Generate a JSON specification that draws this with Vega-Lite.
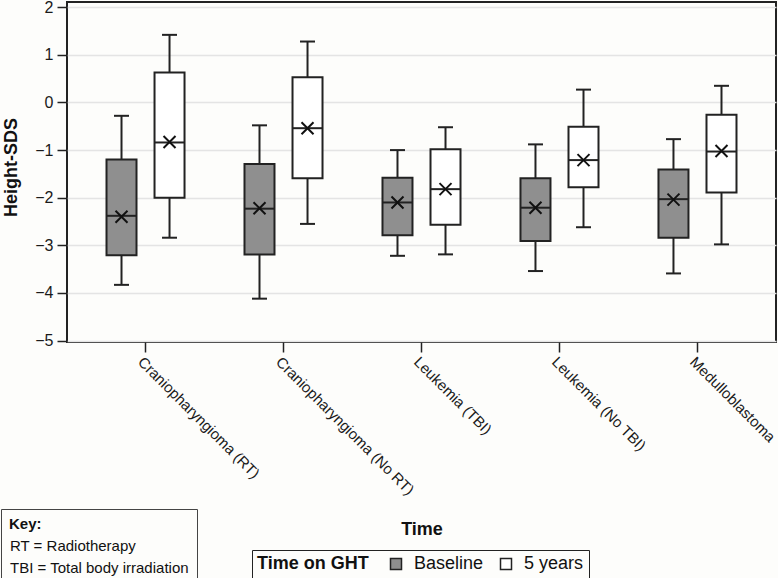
{
  "$schema": "https://vega.github.io/schema/vega-lite/v6.json",
  "width": 709,
  "height": 340,
  "autosize": {"type": "none"},
  "padding": {"left": 67, "top": 2, "right": 2, "bottom": 236},
  "background": "#FDFDFB",
  "config": {
    "font": "Liberation Sans",
    "view": {"stroke": "#222222", "strokeWidth": 2},
    "axis": {
      "labelFont": "Liberation Sans",
      "labelFontSize": 16,
      "labelColor": "#1a1a1a",
      "titleFont": "Liberation Sans",
      "titleFontSize": 18,
      "titleFontWeight": "bold",
      "titleColor": "#111111",
      "tickColor": "#222222",
      "tickWidth": 1.5,
      "tickSize": 10,
      "domain": false,
      "gridColor": "#E4E4E4",
      "gridWidth": 1.5,
      "labelLimit": 400
    },
    "axisX": {
      "grid": false,
      "labelAngle": 45,
      "labelAlign": "left",
      "labelBaseline": "top",
      "labelPadding": 2,
      "labelFontSize": 15,
      "titleY": 187,
      "titleBaseline": "middle"
    },
    "axisY": {
      "grid": true,
      "labelPadding": 4,
      "titleX": -56,
      "titleY": 165,
      "titleBaseline": "middle"
    }
  },
  "data": {
    "values": [
      {"cat": "Craniopharyngioma (RT)", "time": "Baseline", "lo": -3.83, "q1": -3.21, "med": -2.38, "mean": -2.40, "q3": -1.20, "hi": -0.28},
      {"cat": "Craniopharyngioma (RT)", "time": "5 years", "lo": -2.84, "q1": -2.00, "med": -0.84, "mean": -0.83, "q3": 0.63, "hi": 1.42},
      {"cat": "Craniopharyngioma (No RT)", "time": "Baseline", "lo": -4.12, "q1": -3.19, "med": -2.23, "mean": -2.22, "q3": -1.29, "hi": -0.48},
      {"cat": "Craniopharyngioma (No RT)", "time": "5 years", "lo": -2.55, "q1": -1.59, "med": -0.54, "mean": -0.54, "q3": 0.53, "hi": 1.28},
      {"cat": "Leukemia (TBI)", "time": "Baseline", "lo": -3.22, "q1": -2.79, "med": -2.10, "mean": -2.10, "q3": -1.58, "hi": -1.00},
      {"cat": "Leukemia (TBI)", "time": "5 years", "lo": -3.19, "q1": -2.57, "med": -1.82, "mean": -1.82, "q3": -0.98, "hi": -0.52},
      {"cat": "Leukemia (No TBI)", "time": "Baseline", "lo": -3.54, "q1": -2.91, "med": -2.21, "mean": -2.21, "q3": -1.59, "hi": -0.88},
      {"cat": "Leukemia (No TBI)", "time": "5 years", "lo": -2.62, "q1": -1.78, "med": -1.21, "mean": -1.21, "q3": -0.51, "hi": 0.27},
      {"cat": "Medulloblastoma", "time": "Baseline", "lo": -3.59, "q1": -2.84, "med": -2.03, "mean": -2.04, "q3": -1.41, "hi": -0.77},
      {"cat": "Medulloblastoma", "time": "5 years", "lo": -2.98, "q1": -1.89, "med": -1.03, "mean": -1.02, "q3": -0.26, "hi": 0.35}
    ]
  },
  "layer": [
    {
      "encoding": {
        "x": {
          "field": "cat",
          "type": "nominal",
          "title": "Time",
          "sort": ["Craniopharyngioma (RT)", "Craniopharyngioma (No RT)", "Leukemia (TBI)", "Leukemia (No TBI)", "Medulloblastoma"],
          "scale": {
            "domain": ["Craniopharyngioma (RT)", "Craniopharyngioma (No RT)", "Leukemia (TBI)", "Leukemia (No TBI)", "Medulloblastoma"],
            "paddingInner": 0.304,
            "paddingOuter": 0.221
          }
        },
        "xOffset": {
          "field": "time",
          "type": "nominal",
          "sort": ["Baseline", "5 years"],
          "scale": {"domain": ["Baseline", "5 years"], "paddingInner": 0, "paddingOuter": 0}
        }
      },
      "layer": [
        {
          "mark": {"type": "rule", "stroke": "#222222", "strokeWidth": 2},
          "encoding": {
            "y": {"field": "lo", "type": "quantitative", "title": "Height-SDS", "scale": {"domain": [-5.03, 2.11], "nice": false, "zero": false}, "axis": {"values": [-5, -4, -3, -2, -1, 0, 1, 2]}},
            "y2": {"field": "hi"}
          }
        },
        {
          "mark": {"type": "tick", "color": "#222222", "size": 15, "thickness": 2, "opacity": 1},
          "encoding": {"y": {"field": "lo", "type": "quantitative", "title": "Height-SDS"}}
        },
        {
          "mark": {"type": "tick", "color": "#222222", "size": 15, "thickness": 2, "opacity": 1},
          "encoding": {"y": {"field": "hi", "type": "quantitative", "title": "Height-SDS"}}
        },
        {
          "mark": {"type": "bar", "width": 30, "stroke": "#222222", "strokeWidth": 2, "opacity": 1},
          "encoding": {
            "y": {"field": "q1", "type": "quantitative", "title": "Height-SDS"},
            "y2": {"field": "q3"},
            "fill": {
              "field": "time",
              "type": "nominal",
              "scale": {"domain": ["Baseline", "5 years"], "range": ["#8F8F8F", "#FFFFFF"]},
              "legend": {
                "orient": "none",
                "legendX": 185,
                "legendY": 548,
                "direction": "horizontal",
                "title": "Time on GHT",
                "titleOrient": "left",
                "titleFontSize": 18,
                "titleFontWeight": "bold",
                "titleColor": "#111111",
                "titleBaseline": "middle",
                "labelFontSize": 18,
                "labelColor": "#111111",
                "symbolType": "square",
                "symbolSize": 121,
                "symbolStrokeColor": "#222222",
                "symbolStrokeWidth": 1.5,
                "strokeColor": "#222222",
                "fillColor": "#FDFDFB",
                "padding": 5,
                "titlePadding": 18,
                "labelOffset": 9,
                "columnPadding": 13
              }
            }
          }
        },
        {
          "mark": {"type": "tick", "color": "#222222", "size": 30, "thickness": 2, "opacity": 1},
          "encoding": {"y": {"field": "med", "type": "quantitative", "title": "Height-SDS"}}
        },
        {
          "mark": {"type": "point", "shape": "M-1,-1L1,1M-1,1L1,-1", "filled": false, "stroke": "#111111", "strokeWidth": 2, "size": 144, "opacity": 1},
          "encoding": {"y": {"field": "mean", "type": "quantitative", "title": "Height-SDS"}}
        }
      ]
    },
    {
      "data": {"values": [{"key": "RT = Radiotherapy"}, {"key": "TBI = Total body irradiation"}]},
      "mark": {"type": "point", "opacity": 0},
      "encoding": {
        "shape": {
          "field": "key",
          "type": "nominal",
          "scale": {"range": ["circle", "circle"]},
          "legend": {
            "orient": "none",
            "legendX": -66,
            "legendY": 507,
            "direction": "vertical",
            "columns": 1,
            "title": "Key:",
            "titleFontSize": 15,
            "titleFontWeight": "bold",
            "titleColor": "#111111",
            "labelFontSize": 15,
            "labelColor": "#111111",
            "labelAlign": "left",
            "labelLimit": 400,
            "symbolSize": 1,
            "symbolOpacity": 0,
            "symbolStrokeWidth": 0,
            "labelOffset": -14,
            "padding": 8,
            "rowPadding": 6,
            "titlePadding": 6,
            "strokeColor": "#444444",
            "fillColor": "#FDFDFB"
          }
        }
      }
    }
  ]
}
